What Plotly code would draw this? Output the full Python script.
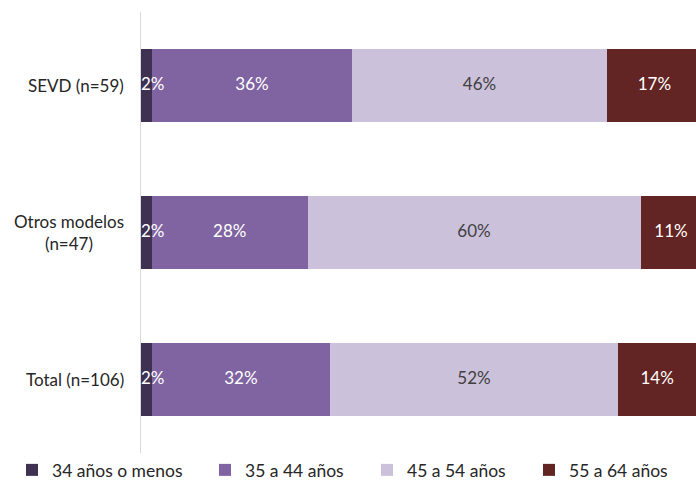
"""Distribución por edad según modelo — barras apiladas horizontales."""

import plotly.graph_objects as go

CATEGORIES = ["SEVD (n=59)", "Otros modelos<br>(n=47)", "Total (n=106)"]
SERIES = ["34 años o menos", "35 a 44 años", "45 a 54 años", "55 a 64 años"]
V_34_MENOS = [2, 2, 2]
V_35_44 = [36, 28, 32]
V_45_54 = [46, 60, 52]
V_55_64 = [17, 11, 14]

COLORS = ["#3F3151", "#8064A2", "#CCC1DA", "#632523"]
TEXT_COLORS = ["#FFFFFF", "#FFFFFF", "#404040", "#FFFFFF"]
LEGEND_X_PX = [12, 205, 367, 529]
FONT = "Lato, 'Open Sans', sans-serif"
W, H = 696, 487

all_vals = [V_34_MENOS, V_35_44, V_45_54, V_55_64]

fig = go.Figure()
legend_ids = ["legend", "legend2", "legend3", "legend4"]
for i, (name, vals) in enumerate(zip(SERIES, all_vals)):
    fig.add_bar(
        y=CATEGORIES,
        x=vals,
        name=name,
        orientation="h",
        legend=legend_ids[i],
        marker=dict(color=COLORS[i], line=dict(width=0)),
        cliponaxis=False,
        hovertemplate="%{y}<br>" + name + ": %{x}%<extra></extra>",
    )

# segment labels: centred on each segment, except the thin first one,
# whose label starts at the bar's base
lx, ly, lt, lc, lp = [], [], [], [], []
for j, cat in enumerate(CATEGORIES):
    base = 0
    for i, vals in enumerate(all_vals):
        v = vals[j]
        if i == 0:
            lx.append(base)
            lp.append("middle right")
        else:
            lx.append(base + v / 2)
            lp.append("middle center")
        ly.append(cat)
        lt.append(f"{v}%")
        lc.append(TEXT_COLORS[i])
        base += v

fig.add_scatter(
    x=lx, y=ly, text=lt, mode="text",
    textposition=lp,
    textfont=dict(color=lc, size=17, family=FONT),
    cliponaxis=False,
    showlegend=False,
    hoverinfo="skip",
)

legends = {}
for lid, px in zip(legend_ids, LEGEND_X_PX):
    legends[lid] = dict(
        orientation="h",
        xref="container", yref="container",
        x=px / W, xanchor="left",
        y=1 - 470 / H, yanchor="middle",
        font=dict(size=17.5, color="#262626", family=FONT),
        bgcolor="rgba(0,0,0,0)",
    )

annotations = [
    dict(
        text=c, x=0, xref="paper", y=c, yref="y",
        xanchor="right", yanchor="middle", xshift=-15,
        align="center", showarrow=False,
        font=dict(size=17, color="#262626", family=FONT),
    )
    for c in CATEGORIES
]

fig.update_layout(
    barmode="stack",
    bargap=0.5,
    width=W,
    height=H,
    paper_bgcolor="white",
    plot_bgcolor="white",
    font=dict(family=FONT, size=17, color="#262626"),
    margin=dict(l=141, r=0, t=12, b=34, autoexpand=False),
    showlegend=True,
    annotations=annotations,
    xaxis=dict(
        range=[0, 100],
        visible=False,
        showgrid=False,
        zeroline=False,
        fixedrange=True,
    ),
    yaxis=dict(
        autorange="reversed",
        showgrid=False,
        showline=True,
        linecolor="#D9D9D9",
        linewidth=1,
        ticks="",
        showticklabels=False,
        automargin=False,
        fixedrange=True,
    ),
    **legends,
)

# the page's default 8px body margin would push the figure off its spot
fig.write_html(
    "out.html",
    config={"displayModeBar": False},
    post_script="document.body.style.margin='0';",
)
